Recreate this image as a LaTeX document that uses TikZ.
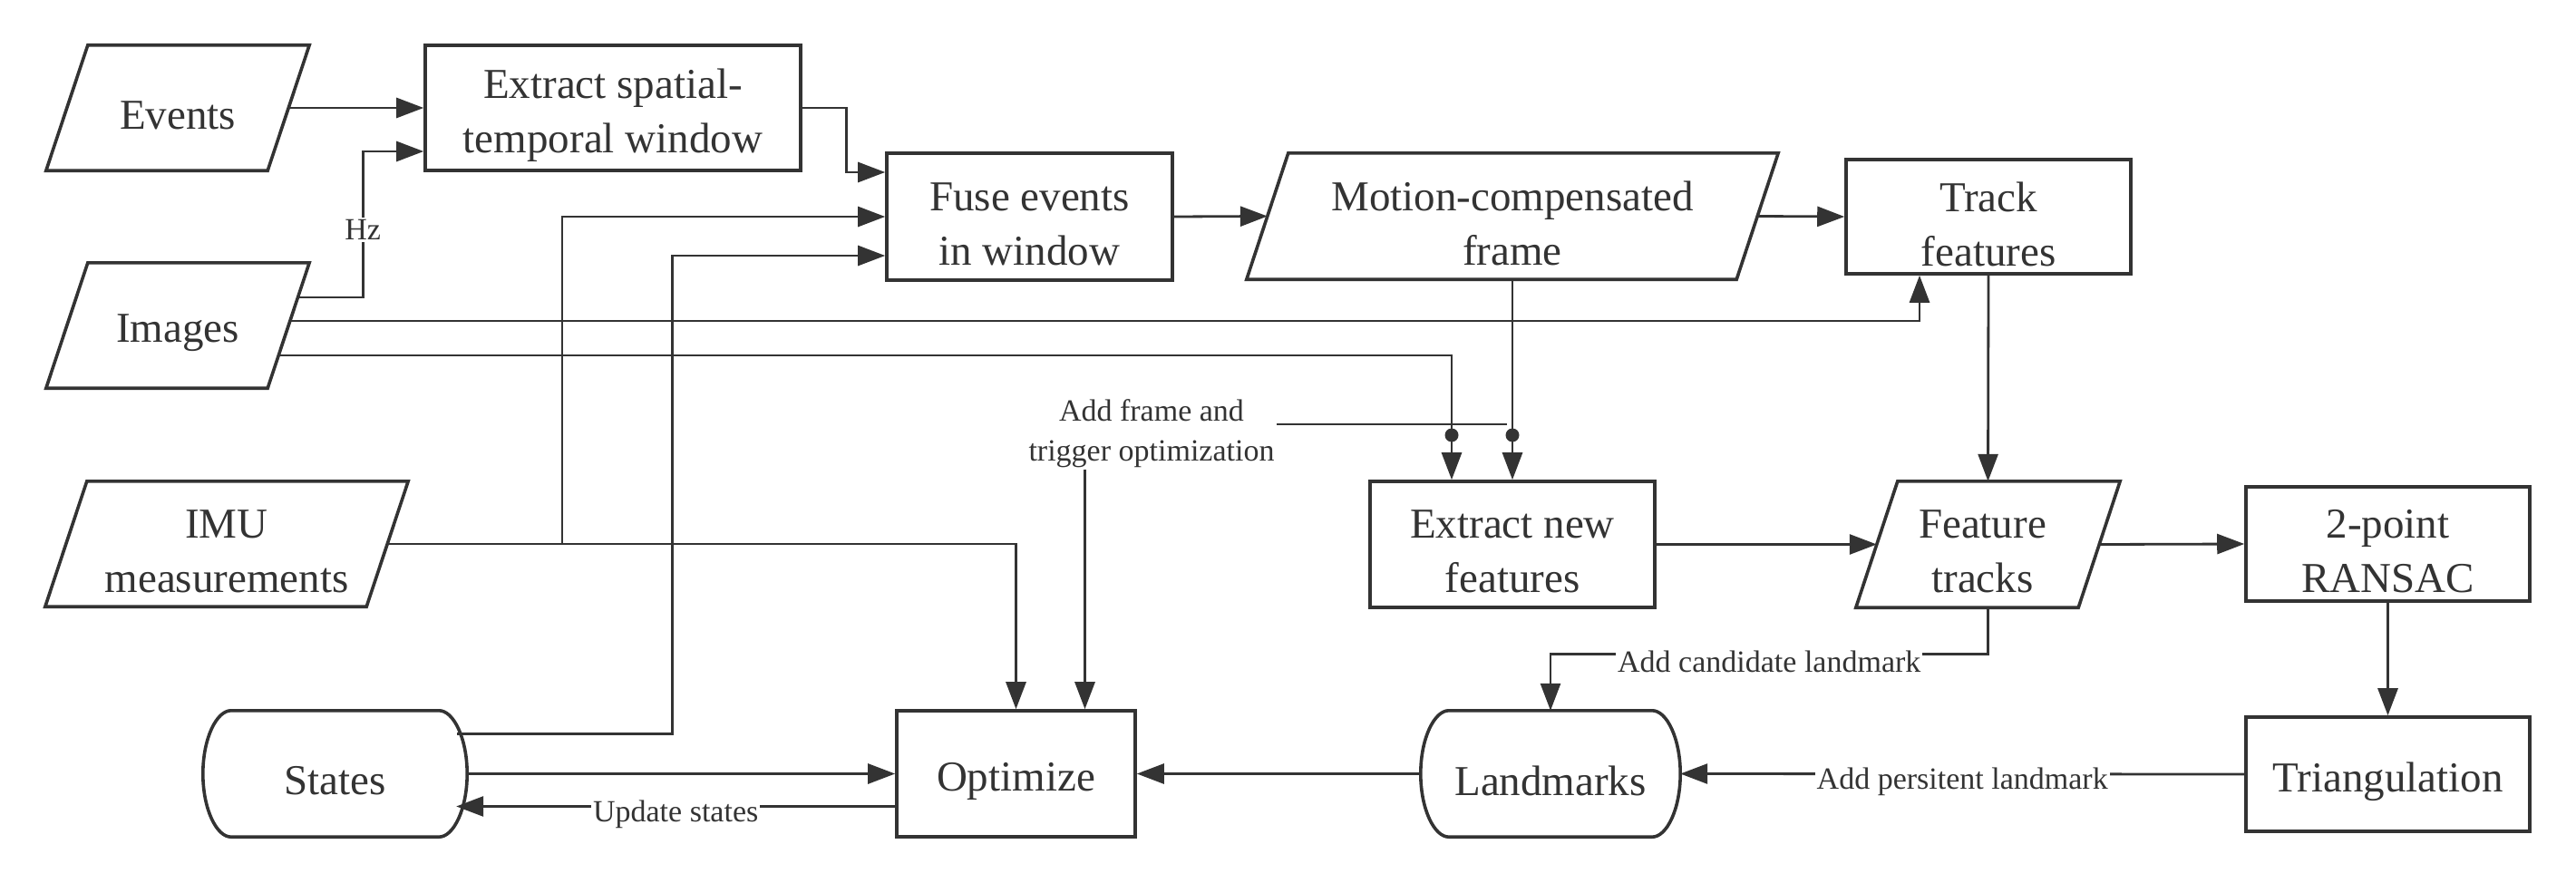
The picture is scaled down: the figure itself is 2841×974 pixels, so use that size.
\documentclass[tikz,border=0pt]{standalone}
\usepackage{fontspec}
\setmainfont{Liberation Serif}
\usetikzlibrary{arrows.meta,calc}
\definecolor{dk}{HTML}{333333}
\newcommand\mainfs{\fontsize{47}{60}\selectfont}
\newcommand\lblfs{\fontsize{34}{44}\selectfont}
\newcommand\drawpara[1]{\draw[boxline] ([xshift=46pt]#1.north west) -- (#1.north east) -- ([xshift=-46pt]#1.south east) -- (#1.south west) -- cycle;}
\newcommand\drawstore[1]{\draw[boxline] ([xshift=31pt]#1.north west) -- ([xshift=-31pt]#1.north east) .. controls ([xshift=-15pt]#1.north east) and ([yshift=39pt]#1.east) .. (#1.east) .. controls ([yshift=-39pt]#1.east) and ([xshift=-15pt]#1.south east) .. ([xshift=-31pt]#1.south east) -- ([xshift=31pt]#1.south west) .. controls ([xshift=15pt]#1.south west) and ([yshift=-39pt]#1.west) .. (#1.west) .. controls ([yshift=39pt]#1.west) and ([xshift=15pt]#1.north west) .. ([xshift=31pt]#1.north west) -- cycle;}
\begin{document}
\begin{tikzpicture}[x=1pt,y=-1pt,
  boxline/.style={draw=dk, line width=3.6pt, line join=miter},
  box/.style={draw=dk, line width=3.6pt, inner sep=0pt},
  shp/.style={inner sep=0pt},
  txt/.style={inner sep=0pt, align=center, text=dk, font=\mainfs},
  arr/.style={draw=dk, line width=2.8pt, -{Triangle[length=30pt,width=22pt]}},
  ln/.style={draw=dk, line width=2.8pt},
  lbl/.style={fill=white, inner sep=2pt, text=dk, font=\lblfs, align=center}]
\fill[white] (0,0) rectangle (2841,974);
\useasboundingbox (0,0) rectangle (2841,974);

% shapes
\node[shp, minimum width=290pt, minimum height=138pt] (events) at (196,119) {};
\node[box, minimum width=414pt, minimum height=138pt] (extract) at (676,119) {};
\node[box, minimum width=315pt, minimum height=140pt] (fuse) at (1135.5,239) {};
\node[shp, minimum width=586pt, minimum height=139pt] (motion) at (1668,238.5) {};
\node[box, minimum width=314pt, minimum height=126pt] (track) at (2193,239) {};
\node[shp, minimum width=290pt, minimum height=138pt] (images) at (196,359) {};
\node[shp, minimum width=400pt, minimum height=138pt] (imu) at (250,600) {};
\node[box, minimum width=314pt, minimum height=139pt] (extractnew) at (1668,600.5) {};
\node[shp, minimum width=291pt, minimum height=139pt] (ftracks) at (2192.5,600.5) {};
\node[box, minimum width=313pt, minimum height=126pt] (ransac) at (2633.5,600) {};
\node[shp, minimum width=291pt, minimum height=139pt] (states) at (369.5,853.5) {};
\node[box, minimum width=263pt, minimum height=139pt] (optimize) at (1120.5,853.5) {};
\node[shp, minimum width=286pt, minimum height=139pt] (landmarks) at (1710,853.5) {};
\node[box, minimum width=313pt, minimum height=126pt] (tri) at (2633.5,854) {};

\drawpara{events}
\drawpara{motion}
\drawpara{images}
\drawpara{imu}
\drawpara{ftracks}
\drawstore{states}
\drawstore{landmarks}

% texts
\node[txt] (events-t) at ([yshift=-8pt]events.center) {Events};
\node[txt] (extract-t) at ([yshift=-8pt]extract.center) {Extract spatial-\\temporal window};
\node[txt] (fuse-t) at ([yshift=-8pt]fuse.center) {Fuse events\\in window};
\node[txt] (motion-t) at ([yshift=-8pt]motion.center) {Motion-compensated\\frame};
\node[txt] (track-t) at ([yshift=-8pt]track.center) {Track\\features};
\node[txt] (images-t) at ([yshift=-8pt]images.center) {Images};
\node[txt] (imu-t) at ([yshift=-8pt]imu.center) {IMU\\measurements};
\node[txt] (extractnew-t) at ([yshift=-8pt]extractnew.center) {Extract new\\features};
\node[txt] (ftracks-t) at ([xshift=-6pt,yshift=-8pt]ftracks.center) {Feature\\tracks};
\node[txt] (ransac-t) at ([yshift=-8pt]ransac.center) {2-point\\RANSAC};
\node[txt] (states-t) at ([yshift=-8pt]states.center) {States};
\node[txt] (optimize-t) at ([yshift=-8pt]optimize.center) {Optimize};
\node[txt] (landmarks-t) at ([yshift=-8pt]landmarks.center) {Landmarks};
\node[txt] (tri-t) at ([yshift=-8pt]tri.center) {Triangulation};

% connectors
\draw[arr] ([xshift=-23pt]events.east) -- (extract.west);
\draw[arr] ([xshift=-13pt,yshift=31pt]images.east) -- ++(72,0) |- node[lbl,pos=0.25,yshift=-6pt]{Hz} ([yshift=-48pt]extract.west);
\draw[arr] (extract.east) -- ++(49,0) |- ([yshift=49pt]fuse.west);
\coordinate (j1) at (620,600);
\draw[arr] ([xshift=-23pt]imu.east) -- (j1) |- (fuse.west);
\draw[arr] (j1) -| (optimize.north);
\draw[arr] ([xshift=-11pt,yshift=44pt]states.east) -- ++(237,0) |- ([yshift=-43pt]fuse.west);
\draw[arr] (fuse.east) -- ([xshift=23pt]motion.west);
\draw[arr] ([xshift=-23pt]motion.east) -- (track.west);
\draw[arr] ([xshift=-21pt,yshift=5pt]images.east) -| ([xshift=-76pt]track.south);
\draw[arr] ([xshift=-34pt,yshift=-33pt]images.east) -| ([xshift=-67pt]extractnew.north);
\draw[arr] (motion.south) -- (extractnew.north);
\coordinate (d1) at (1601,480);
\coordinate (d2) at (1668,480);
\fill[dk] (d1) circle (7.5pt);
\fill[dk] (d2) circle (7.5pt);

\node[lbl, fill=none] (lf) at (1270,478) {Add frame and\\trigger optimization};
\coordinate (fj) at (1662,468);
\draw[ln] (fj) -- (lf.east |- fj);
\coordinate (tr) at ([xshift=76pt]optimize.north);
\draw[arr] (lf.south -| tr) -- (tr);

\draw[arr] (track.south) -- (ftracks.north);
\draw[arr] (extractnew.east) -- ([xshift=23pt]ftracks.west);
\draw[arr] ([xshift=-23pt]ftracks.east) -- (ransac.west);
\draw[arr] (ransac.south) -- (tri.north);
\draw[arr] (tri.west) -- node[lbl,yshift=-9pt]{Add persitent landmark} (landmarks.east);
\draw[arr] (ftracks.south) -- ++(0,51) -| node[lbl,pos=0.25,yshift=-9pt]{Add candidate landmark} (landmarks.north);
\draw[arr] (landmarks.west) -- (optimize.east);
\draw[arr] (states.east) -- (optimize.west);
\draw[arr] ([yshift=-36pt]optimize.west) -- node[lbl,yshift=-9pt]{Update states} ([xshift=-12pt,yshift=-36pt]states.east);
\end{tikzpicture}
\end{document}
